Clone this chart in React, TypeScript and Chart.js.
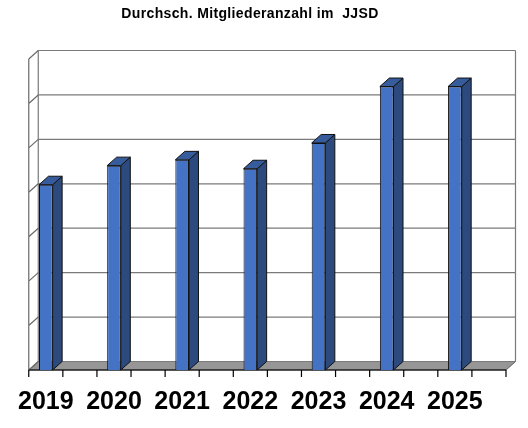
import React, { useEffect, useRef } from "react";
import { Chart, registerables } from "chart.js";

Chart.register(...registerables);

const title = "Durchsch. Mitgliederanzahl im  JJSD";
const years = ["2019", "2020", "2021", "2022", "2023", "2024", "2025"];
const members = [4.17, 4.6, 4.73, 4.53, 5.11, 6.38, 6.38];
const yTicks = [0, 1, 2, 3, 4, 5, 6, 7];

// each year is followed by an empty slot (as in the original chart)
const labels: string[] = [];
const slotData: (number | null)[] = [];
years.forEach((y, i) => {
  labels.push(y, "");
  slotData.push(members[i], null);
});

const DX = 9.5;
const DY = -8.5;

const threeD = {
  id: "threeD",
  beforeDatasetsDraw(chart: any) {
    const { ctx, chartArea } = chart;
    const ys = chart.scales.y;
    const { left, right, top, bottom } = chartArea;
    ctx.save();
    // floor
    ctx.fillStyle = "#969696";
    ctx.beginPath();
    ctx.moveTo(left, bottom);
    ctx.lineTo(left + DX, bottom + DY);
    ctx.lineTo(right + DX, bottom + DY);
    ctx.lineTo(right, bottom);
    ctx.closePath();
    ctx.fill();
    ctx.strokeStyle = "#5a5a5a";
    ctx.lineWidth = 1;
    ctx.stroke();
    // back wall grid lines
    ctx.strokeStyle = "#7a7a7a";
    ctx.lineWidth = 1.2;
    yTicks.forEach((t) => {
      const py = ys.getPixelForValue(t) + DY;
      ctx.beginPath();
      ctx.moveTo(left + DX, py);
      ctx.lineTo(right + DX, py);
      ctx.stroke();
    });
    // back wall verticals
    ctx.beginPath();
    ctx.moveTo(left + DX, top + DY);
    ctx.lineTo(left + DX, bottom + DY);
    ctx.moveTo(right + DX, top + DY);
    ctx.lineTo(right + DX, bottom + DY);
    ctx.stroke();
    // left wall
    ctx.strokeStyle = "#6a6a6a";
    ctx.beginPath();
    ctx.moveTo(left, top);
    ctx.lineTo(left, bottom);
    yTicks.forEach((t) => {
      const py = ys.getPixelForValue(t);
      ctx.moveTo(left, py);
      ctx.lineTo(left + DX, py + DY);
    });
    ctx.stroke();
    // front axis and tick marks
    ctx.strokeStyle = "#000000";
    ctx.lineWidth = 1.2;
    ctx.beginPath();
    ctx.moveTo(left, bottom);
    ctx.lineTo(right, bottom);
    const n = labels.length;
    const w = (right - left) / n;
    for (let i = 0; i <= n; i++) {
      const px = left + i * w;
      ctx.moveTo(px, bottom);
      ctx.lineTo(px, bottom + 7);
    }
    ctx.stroke();
    ctx.restore();
  },
  afterDatasetsDraw(chart: any) {
    const { ctx } = chart;
    const meta = chart.getDatasetMeta(0);
    ctx.save();
    ctx.strokeStyle = "#111111";
    ctx.lineWidth = 1;
    meta.data.forEach((bar: any, i: number) => {
      if (slotData[i] == null) return;
      const { x, y, base, width } = bar.getProps(["x", "y", "base", "width"], true);
      const l = x - width / 2;
      const r = x + width / 2;
      // side face
      ctx.fillStyle = "#2c4a7e";
      ctx.beginPath();
      ctx.moveTo(r, y);
      ctx.lineTo(r + DX, y + DY);
      ctx.lineTo(r + DX, base + DY);
      ctx.lineTo(r, base);
      ctx.closePath();
      ctx.fill();
      ctx.stroke();
      // top face
      ctx.fillStyle = "#375c9c";
      ctx.beginPath();
      ctx.moveTo(l, y);
      ctx.lineTo(l + DX, y + DY);
      ctx.lineTo(r + DX, y + DY);
      ctx.lineTo(r, y);
      ctx.closePath();
      ctx.fill();
      ctx.stroke();
    });
    ctx.restore();
  },
  afterDraw(chart: any) {
    const { ctx } = chart;
    ctx.save();
    ctx.font = 'bold 14px "Liberation Sans", Arial, sans-serif';
    ctx.fillStyle = "#000000";
    ctx.textAlign = "center";
    ctx.textBaseline = "middle";
    try {
      (ctx as any).letterSpacing = "0.35px";
    } catch (e) {}
    ctx.fillText(title, 250, 14);
    ctx.restore();
  },
};

export default function App() {
  const ref = useRef<HTMLCanvasElement | null>(null);
  useEffect(() => {
    if (!ref.current) return;
    const chart = new Chart(ref.current, {
      type: "bar",
      data: {
        labels,
        datasets: [
          {
            data: slotData,
            backgroundColor: "#4472c4",
            borderColor: "#111111",
            borderWidth: 1,
            barPercentage: 0.4,
            categoryPercentage: 1,
            skipNull: true,
          } as any,
        ],
      },
      options: {
        responsive: false,
        animation: false,
        layout: { padding: { left: 28, right: 22, top: 59, bottom: 0 } },
        plugins: {
          legend: { display: false },
          title: { display: false },
          tooltip: { enabled: false },
        },
        scales: {
          x: {
            grid: { display: false, drawTicks: false },
            border: { display: false },
            ticks: {
              autoSkip: false,
              maxRotation: 0,
              padding: 17,
              color: "#000000",
              font: { family: '"Liberation Sans", Arial, sans-serif', size: 25, weight: "bold" },
            },
            afterFit: (scale: any) => {
              scale.height = 58;
            },
          },
          y: {
            display: false,
            min: 0,
            max: 7,
          },
        },
      },
      plugins: [threeD],
    });
    return () => chart.destroy();
  }, []);
  return (
    <div style={{ position: "fixed", left: 0, top: 0, width: 528, height: 428, background: "#ffffff" }}>
      <canvas ref={ref} width={528} height={428} style={{ display: "block", width: 528, height: 428 }} />
    </div>
  );
}
